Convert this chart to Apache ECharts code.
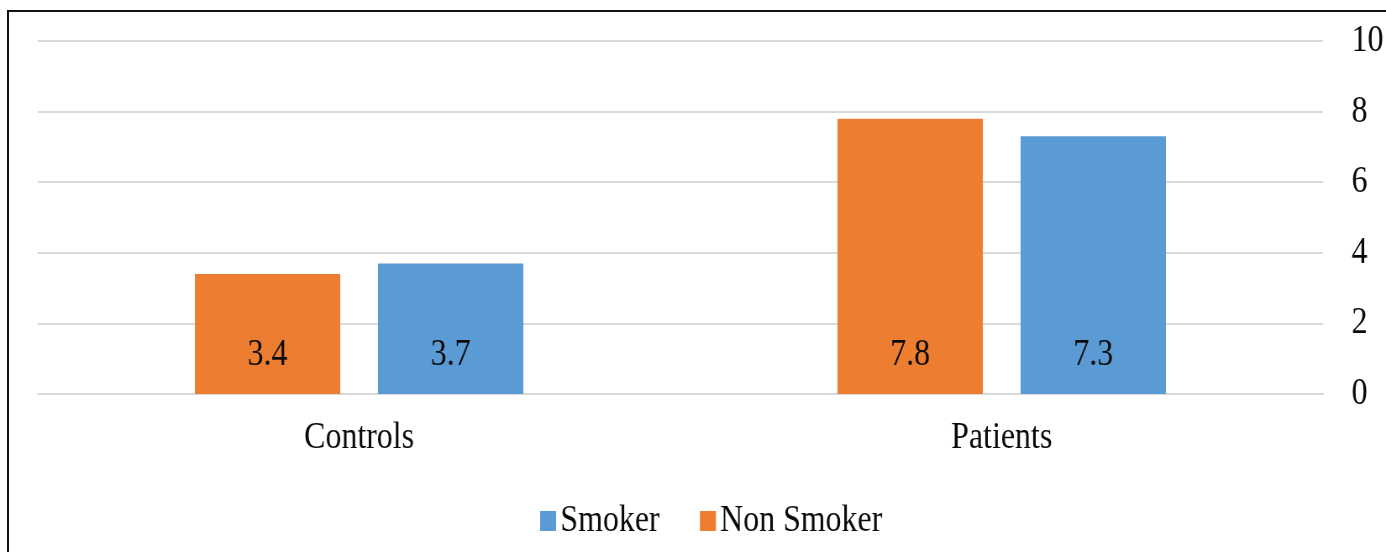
<!DOCTYPE html>
<html>
<head>
<meta charset="utf-8">
<script src="https://cdn.jsdelivr.net/npm/echarts@6/dist/echarts.min.js"></script>
<style>
  html, body { margin: 0; padding: 0; background: #fff; overflow: hidden; }
  #stage { position: relative; width: 1386px; height: 552px; overflow: hidden; }
  /* The chart is laid out wider and squeezed horizontally, giving the narrow serif lettering */
  #chart { position: absolute; left: 0; top: 0; width: 1650px; height: 552px;
           transform: scaleX(0.84); transform-origin: 0 0; }
  #frame { position: absolute; left: 7px; top: 10px; width: 2000px; height: 1000px;
           border-left: 2px solid #111; border-top: 2px solid #111; pointer-events: none; }
</style>
</head>
<body>
<div id="stage">
  <div id="chart"></div>
  <div id="frame"></div>
</div>
<script>
// Groups on the x axis
const categories = ['Controls', 'Patients'];
// Mean values per group
const nonSmokerValues = [3.4, 7.8];
const smokerValues = [3.7, 7.3];
// Legend order as shown under the chart
const legendOrder = ['Smoker', 'Non Smoker'];
// Value axis range
const yMin = 0, yMax = 10, yStep = 2;

const serif = 'Liberation Serif';
const textColor = '#0a0a0a';

const labelStyle = {
  show: true,
  position: 'insideBottom',
  distance: 20,
  color: textColor,
  fontFamily: serif,
  fontSize: 38
};

const chart = echarts.init(document.getElementById('chart'), null, { renderer: 'canvas' });
chart.setOption({
  backgroundColor: 'transparent',
  animation: false,
  grid: { left: 45, right: 74, top: 41, bottom: 158, containLabel: false },
  legend: {
    data: legendOrder,
    left: 638,
    top: 497,
    itemWidth: 19,
    itemHeight: 20,
    itemGap: 48,
    icon: 'rect',
    textStyle: { color: textColor, fontFamily: serif, fontSize: 38 }
  },
  xAxis: {
    type: 'category',
    data: categories,
    axisLine: { show: true, lineStyle: { color: '#d9d9d9', width: 2 } },
    axisTick: { show: false },
    axisLabel: { color: textColor, fontFamily: serif, fontSize: 38, margin: 25 }
  },
  yAxis: {
    type: 'value',
    position: 'right',
    min: yMin,
    max: yMax,
    interval: yStep,
    axisLine: { show: false },
    axisTick: { show: false },
    axisLabel: { color: textColor, fontFamily: serif, fontSize: 38, margin: 34 },
    splitLine: { lineStyle: { color: '#d9d9d9', width: 2 } }
  },
  series: [
    {
      name: 'Non Smoker',
      type: 'bar',
      data: nonSmokerValues,
      barWidth: 173,
      barGap: '26%',
      itemStyle: { color: '#ED7D31' },
      label: labelStyle
    },
    {
      name: 'Smoker',
      type: 'bar',
      data: smokerValues,
      barWidth: 173,
      barGap: '26%',
      itemStyle: { color: '#5B9BD5' },
      label: labelStyle
    }
  ]
});
</script>
</body>
</html>
